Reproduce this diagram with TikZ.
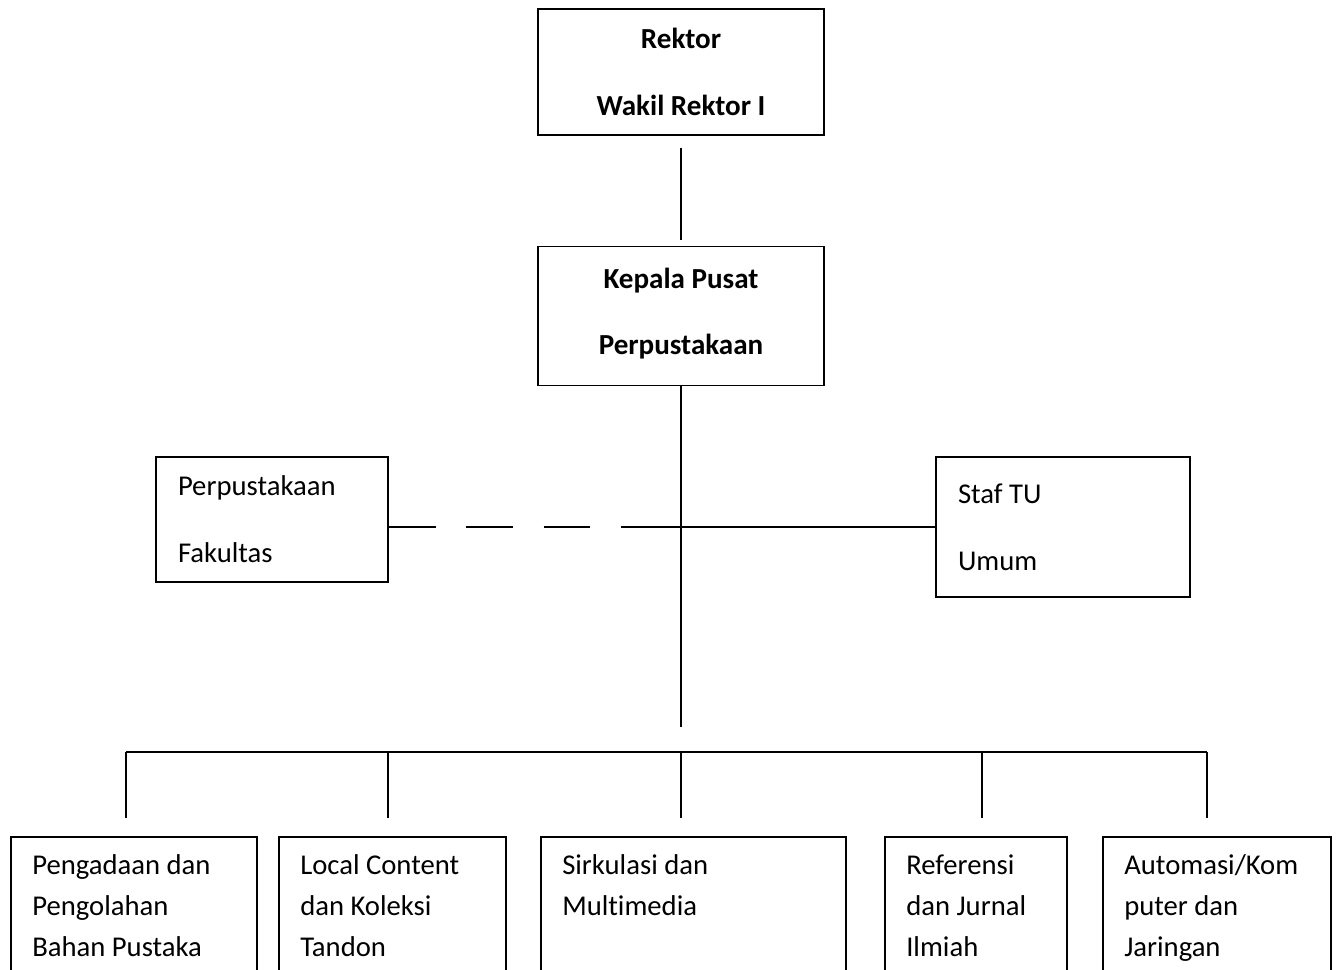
\documentclass[tikz,border=0pt]{standalone}
\usepackage{fontspec}
\setmainfont[Ligatures=NoCommon]{Carlito}
\usetikzlibrary{positioning}

\begin{document}
\begin{tikzpicture}[x=0.75pt,y=-0.75pt,
    garis/.style={line width=1.4pt},
    kotak/.style={draw,line width=1.4pt,inner sep=0pt,font=\fontsize{21.5}{30.75}\selectfont},
    pimpinan/.style={kotak,font=\fontsize{21.8}{30.75}\selectfont\bfseries,align=center,minimum width=214.5pt},
    samping/.style={kotak,align=flush left,inner xsep=16.5pt},
    bagian/.style={kotak,align=flush left,anchor=north west,inner xsep=16pt,minimum height=105pt,
        execute at begin node=\strut,execute at end node=\strut}]
        \useasboundingbox (0,0) rectangle (1336,970);

        %pimpinan
        \node [pimpinan,minimum height=94.5pt] (rektor) at (681,72) {Rektor\\[19pt]Wakil Rektor I};
        \node [pimpinan,minimum height=104.25pt] (kepala) at (681,316) {Kepala Pusat\\[19pt]Perpustakaan\\[-24pt]};
        \draw [garis]([yshift=-9pt]rektor.south) -- ([yshift=4.5pt]kepala.north);

        %unit samping
        \node [samping,text width=141pt,minimum height=93.75pt] (fakultas) at (272,519.5) {Perpustakaan\\[19.5pt]Fakultas};
        \node [samping,text width=157.5pt,minimum height=105pt] (stafTU) at (1063,527) {Staf TU\\[19.5pt]Umum\\[-24.75pt]};
        \coordinate (ujung) at (681,727);
        \coordinate (silang) at (681,527);
        \coordinate (putus) at (621,527);
        \draw [garis](kepala.south) -- (ujung);
        \draw [garis,dash pattern=on 35pt off 23pt](fakultas.east |- silang) -- (putus);
        \draw [garis](putus) -- (stafTU.west);

        %bagian bawah
        \coordinate (buskiri) at (126,752);
        \coordinate (buskanan) at (1207,752);
        \draw [garis](buskiri) -- (buskanan);
        \foreach \x/\n in {126/1,388/2,681/3,982/4,1207/5}{
            \coordinate (cabang\n) at (\x,752);
            \draw [garis](cabang\n) -- ++(0,66);
        }
        \node [bagian,text width=152.5pt] (pengadaan) at (10,836) {Pengadaan dan\\Pengolahan\\Bahan Pustaka};
        \node [bagian,text width=138pt] (lokal) at (278,836) {Local Content\\dan Koleksi\\Tandon};
        \node [bagian,text width=196.75pt] (sirkulasi) at (540,836) {Sirkulasi dan\\Multimedia\\\phantom{Ilmiah}};
        \node [bagian,text width=104.5pt] (referensi) at (884,836) {Referensi\\dan Jurnal\\Ilmiah};
        \node [bagian,text width=139pt] (automasi) at (1102,836) {Automasi/Kom\\puter dan\\Jaringan};
\end{tikzpicture}
\end{document}
